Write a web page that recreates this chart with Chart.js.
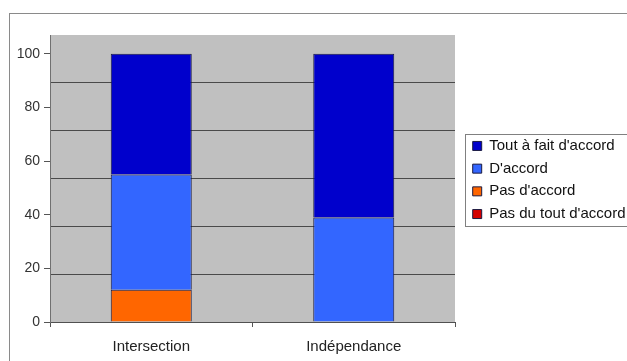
<!DOCTYPE html>
<html>
<head>
<meta charset="utf-8">
<script src="https://cdn.jsdelivr.net/npm/chart.js@4/dist/chart.umd.min.js"></script>
<style>
  html, body { margin: 0; padding: 0; background: #ffffff; }
  #c { display: block; }
</style>
</head>
<body>
<canvas id="c" width="627" height="361"></canvas>
<script>
// ---- data ----
const categories = ["Intersection", "Indépendance"];
const seriesNames = ["Pas du tout d'accord", "Pas d'accord", "D'accord", "Tout à fait d'accord"];
const pasDuToutDaccord = [0, 0];
const pasDaccord = [12, 0];
const daccord = [43, 39];
const toutAFaitDaccord = [45, 61];
const yTicks = [0, 20, 40, 60, 80, 100];

const seriesValues = [pasDuToutDaccord, pasDaccord, daccord, toutAFaitDaccord];
const seriesColors = ["#D40000", "#FF6600", "#3366FF", "#0000CC"];

const FONT = "'Liberation Sans', Arial, sans-serif";

const framePlugin = {
  id: 'frame',
  beforeLayout(chart) {
    const lg = chart.legend;
    if (lg && !lg._patched) {
      const f = lg.fit;
      lg.fit = function () { f.call(this); this.width = 162; };
      lg._patched = true;
    }
  },
  afterLayout(chart) {
    const lg = chart.legend;
    if (lg) { lg.bottom = 325; lg.height = lg.bottom - lg.top; }
  },
  beforeDraw(chart) {
    const ctx = chart.ctx;
    const a = chart.chartArea;
    ctx.save();
    ctx.fillStyle = '#ffffff';
    ctx.fillRect(0, 0, chart.width, chart.height);
    ctx.strokeStyle = '#8a8a8a';
    ctx.lineWidth = 1;
    ctx.strokeRect(9.5, 13.5, 700, 400);
    ctx.fillStyle = '#C0C0C0';
    ctx.fillRect(a.left, a.top, a.right - a.left, a.bottom - a.top);
    ctx.restore();
  },
  afterDraw(chart) {
    const lg = chart.legend;
    const hb = lg.legendHitBoxes;
    if (!hb || !hb.length) return;
    const ctx = chart.ctx;
    const top = Math.round(hb[0].top - 4) + 0.5;
    const bottom = Math.round(hb[hb.length - 1].top + hb[hb.length - 1].height + 4) + 0.5;
    ctx.save();
    ctx.strokeStyle = '#808080';
    ctx.lineWidth = 1;
    ctx.strokeRect(Math.round(lg.left) + 0.5, top, 700, bottom - top);
    ctx.restore();
  }
};

new Chart(document.getElementById('c'), {
  type: 'bar',
  data: {
    labels: categories,
    datasets: seriesNames.map((name, i) => ({
      label: name,
      data: seriesValues[i],
      backgroundColor: seriesColors[i],
      borderColor: '#1a1a40',
      borderWidth: 1,
      borderSkipped: 'start',
      categoryPercentage: 1.0,
      barPercentage: 0.4,
      yAxisID: 'y'
    }))
  },
  options: {
    responsive: false,
    animation: false,
    devicePixelRatio: 1,
    layout: { padding: { top: 35, left: 0, right: 0, bottom: 0 } },
    plugins: {
      tooltip: { enabled: false },
      legend: {
        position: 'right',
        reverse: true,
        labels: {
          font: { family: FONT, size: 15 },
          color: '#111',
          boxWidth: 9,
          boxHeight: 9,
          padding: 7.7
        }
      }
    },
    scales: {
      x: {
        stacked: true,
        offset: true,
        grid: {
          display: true,
          offset: true,
          drawOnChartArea: false,
          drawTicks: true,
          tickLength: 5,
          color: '#555'
        },
        border: { display: true, color: '#505050', width: 1 },
        ticks: {
          font: { family: FONT, size: 15 },
          color: '#222',
          padding: 11,
          maxRotation: 0
        },
        afterFit(axis) { axis.height = 39; }
      },
      y: {
        stacked: true,
        position: 'left',
        min: 0,
        max: 107,
        grid: {
          display: true,
          drawOnChartArea: false,
          drawTicks: true,
          tickLength: 6,
          color: '#555'
        },
        border: { display: true, color: '#707070', width: 1 },
        ticks: {
          stepSize: 20,
          includeBounds: false,
          font: { family: FONT, size: 14 },
          color: '#333',
          padding: 4
        },
        afterBuildTicks(axis) { axis.ticks = yTicks.map(v => ({ value: v })); },
        afterFit(axis) { axis.width = 50; }
      },
      y2: {
        position: 'right',
        min: 0,
        max: 6,
        grid: {
          display: true,
          drawTicks: false,
          color: (c) => (c.tick && (c.tick.value === 0 || c.tick.value === 6)) ? 'rgba(0,0,0,0)' : '#4a4a4a',
          lineWidth: 1
        },
        border: { display: false },
        ticks: { display: false, stepSize: 1 },
        afterFit(axis) { axis.width = 10; }
      }
    }
  },
  plugins: [framePlugin]
});
</script>
</body>
</html>
